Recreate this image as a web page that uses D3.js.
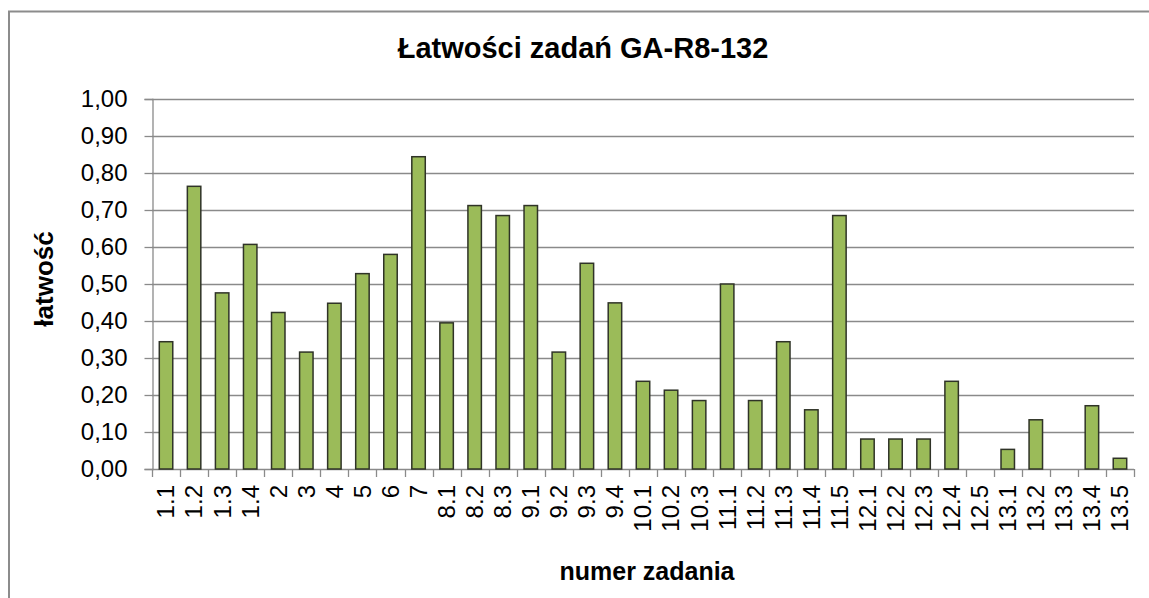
<!DOCTYPE html>
<meta charset="utf-8">
<head>
  <script src="https://d3js.org/d3.v7.min.js"></script>
  <style>
    body { margin: 0; background: #fff; }
    text { font-family: "Liberation Sans", Arial, sans-serif; }
  </style>
</head>
<body>
<div id="chart"></div>
<script>

// task numbers and their difficulty index
var zadania = ["1.1","1.2","1.3","1.4","2","3","4","5","6","7","8.1","8.2","8.3","9.1","9.2","9.3","9.4",
  "10.1","10.2","10.3","11.1","11.2","11.3","11.4","11.5","12.1","12.2","12.3","12.4","12.5",
  "13.1","13.2","13.3","13.4","13.5"];
var latwosc = [0.344,0.764,0.476,0.607,0.423,0.316,0.448,0.528,0.580,0.844,0.395,0.712,0.685,0.712,0.316,0.556,0.449,
  0.237,0.213,0.185,0.500,0.185,0.344,0.160,0.685,0.081,0.081,0.081,0.237,0,
  0.053,0.133,0,0.171,0.029];
var yTicks = [0,0.1,0.2,0.3,0.4,0.5,0.6,0.7,0.8,0.9,1.0];

var W = 1149, H = 598;
var margin = {top: 99, right: 15, bottom: 129, left: 152},
    width = 1134 - margin.left,
    height = 469 - margin.top;

var root = d3.select("#chart").append("svg")
    .attr("width", W)
    .attr("height", H);

// outer chart frame (only top + left visible)
root.append("path")
  .attr("d", "M9,598 V11.5 H1149")
  .attr("fill", "none")
  .attr("stroke", "#8c8c8c")
  .attr("stroke-width", 2);

var svg = root.append("g")
  .attr("transform", "translate(" + margin.left + "," + margin.top + ")");

var x = d3.scaleBand()
  .domain(zadania)
  .range([0, width])
  .paddingInner(0.52)
  .paddingOuter(0.26);

var y = d3.scaleLinear()
  .domain([0, 1])
  .range([height, 0]);

var fmt = function(d) { return d3.format(".2f")(d).replace(".", ","); };

// gridlines
svg.append("g")
  .selectAll("line")
  .data(yTicks.slice(1))
  .enter().append("line")
    .attr("x1", 0).attr("x2", width)
    .attr("y1", function(d) { return Math.round(y(d)) + 0.5; })
    .attr("y2", function(d) { return Math.round(y(d)) + 0.5; })
    .attr("stroke", "#8a8a8a")
    .attr("stroke-width", 1.3);

// Y axis
var yAxis = svg.append("g")
  .attr("transform", "translate(0.5,0)")
  .call(d3.axisLeft(y).tickValues(yTicks).tickFormat(fmt).tickSize(8).tickPadding(17));
yAxis.selectAll("text")
  .attr("font-size", 24)
  .attr("fill", "#000");
yAxis.selectAll("line, path").attr("stroke", "#8a8a8a").attr("stroke-width", 1.3);

// X axis: ticks at category boundaries
var step = x.step();
var bounds = d3.range(zadania.length + 1).map(function(i) { return i * step; });
svg.append("g")
  .selectAll("line")
  .data(bounds)
  .enter().append("line")
    .attr("x1", function(d) { return Math.round(d) + 0.5; })
    .attr("x2", function(d) { return Math.round(d) + 0.5; })
    .attr("y1", height).attr("y2", height + 8)
    .attr("stroke", "#8a8a8a")
    .attr("stroke-width", 1.3);
svg.append("line")
  .attr("x1", 0).attr("x2", width)
  .attr("y1", height + 0.5).attr("y2", height + 0.5)
  .attr("stroke", "#8a8a8a")
  .attr("stroke-width", 1.3);

// bars (zero values draw nothing)
var barData = zadania.map(function(z, i) { return {z: z, v: latwosc[i]}; })
  .filter(function(d) { return d.v > 0; });
svg.append("g")
  .selectAll("rect")
  .data(barData)
  .enter().append("rect")
    .attr("x", function(d) { return x(d.z); })
    .attr("width", x.bandwidth())
    .attr("y", function(d) { return y(d.v); })
    .attr("height", function(d) { return height - y(d.v); })
    .attr("fill", "#9bbb59")
    .attr("stroke", "#2f3327")
    .attr("stroke-width", 1.5);

// x tick labels, rotated
svg.append("g")
  .selectAll("text")
  .data(zadania)
  .enter().append("text")
    .attr("transform", function(d) {
      return "translate(" + (x(d) + x.bandwidth() / 2) + "," + (height + 16) + ") rotate(-90)";
    })
    .attr("text-anchor", "end")
    .attr("dy", "0.35em")
    .attr("font-size", 24)
    .text(function(d) { return d; });

// titles
root.append("text")
  .attr("x", 583).attr("y", 58)
  .attr("text-anchor", "middle")
  .attr("font-size", 29)
  .attr("font-weight", "bold")
  .text("Łatwości zadań GA-R8-132");

root.append("text")
  .attr("transform", "translate(53,279) rotate(-90)")
  .attr("text-anchor", "middle")
  .attr("font-size", 26)
  .attr("font-weight", "bold")
  .text("łatwość");

root.append("text")
  .attr("x", 647).attr("y", 580)
  .attr("text-anchor", "middle")
  .attr("font-size", 25)
  .attr("font-weight", "bold")
  .text("numer zadania");

</script>
</body>
